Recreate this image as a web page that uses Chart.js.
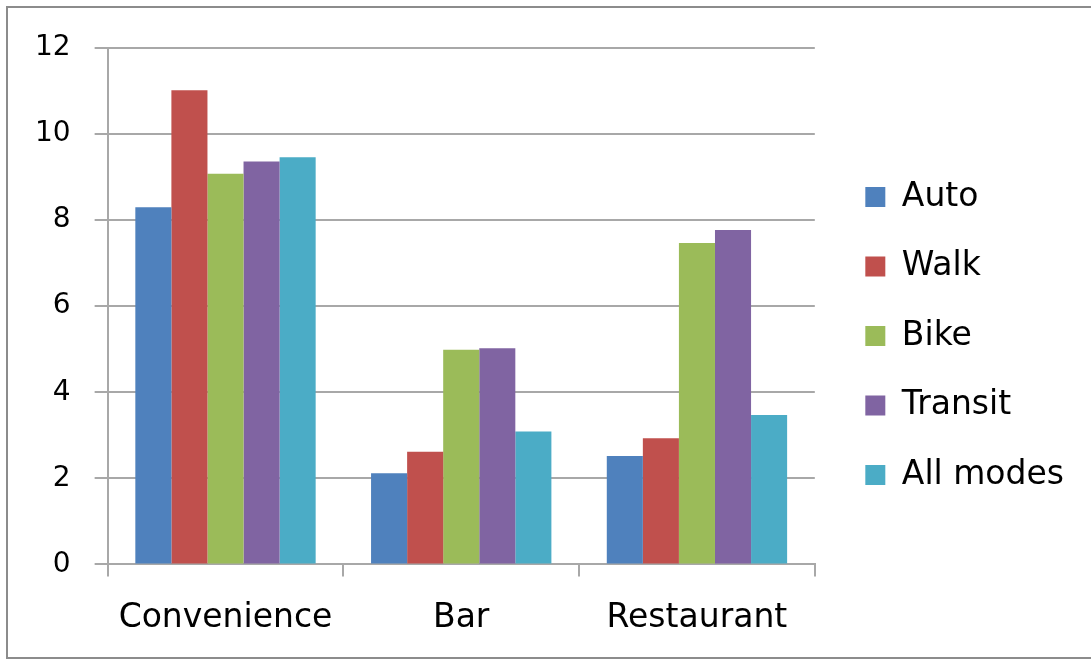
<!DOCTYPE html>
<html>
<head>
<meta charset="utf-8">
<script src="https://cdn.jsdelivr.net/npm/chart.js@4/dist/chart.umd.min.js"></script>
<style>
  html, body { margin: 0; padding: 0; background: #fff; }
  #wrap { position: relative; width: 1091px; height: 660px; }
</style>
</head>
<body>
<div id="wrap"><canvas id="myChart" width="1091" height="660"></canvas></div>
<script>
// data
const categories = ["Convenience", "Bar", "Restaurant"];
const auto = [8.3, 2.12, 2.52];
const walk = [11.02, 2.62, 2.93];
const bike = [9.08, 4.99, 7.47];
const transit = [9.36, 5.02, 7.77];
const allModes = [9.46, 3.09, 3.47];
const yTicks = [0, 2, 4, 6, 8, 10, 12];

const COLORS = {
    auto: "#4F81BD",
    walk: "#C0504D",
    bike: "#9BBB59",
    transit: "#8064A2",
    all: "#4BACC6",
    grid: "#a8a8a8",
    text: "#000000",
    frame: "#8c8c8c"
};

const FONT = "'DejaVu Sans', 'Noto Sans', sans-serif";

// grey frame round the whole picture
const framePlugin = {
    id: 'frame',
    afterDraw(chart) {
        const c = chart.ctx;
        c.save();
        c.strokeStyle = COLORS.frame;
        c.lineWidth = 2;
        c.strokeRect(7, 7, 1100, 651);
        c.restore();
    }
};

// nudge the legend right and up, like in the original
const legendShift = {
    id: 'legendShift',
    afterLayout(chart) {
        const lg = chart.legend;
        lg.left += 14;
        lg.right += 14;
        lg.top -= 18;
        lg.bottom -= 18;
    }
};

function ds(label, data, color) {
    return {
        label: label,
        data: data,
        backgroundColor: color,
        borderWidth: 0,
        barPercentage: 1.0,
        categoryPercentage: 0.765
    };
}

new Chart(document.getElementById("myChart"), {
    type: 'bar',
    data: {
        labels: categories,
        datasets: [
            ds("Auto", auto, COLORS.auto),
            ds("Walk", walk, COLORS.walk),
            ds("Bike", bike, COLORS.bike),
            ds("Transit", transit, COLORS.transit),
            ds("All modes", allModes, COLORS.all)
        ]
    },
    options: {
        responsive: false,
        animation: false,
        layout: {
            padding: { left: 11, right: 31, top: 48, bottom: 0 }
        },
        scales: {
            x: {
                grid: {
                    display: true,
                    drawOnChartArea: false,
                    drawTicks: true,
                    tickLength: 12,
                    color: COLORS.grid,
                    lineWidth: 2,
                    offset: true
                },
                border: { display: true, color: COLORS.grid, width: 2 },
                ticks: {
                    color: COLORS.text,
                    padding: 22,
                    font: { family: FONT, size: 33 }
                }
            },
            y: {
                min: 0,
                max: 12,
                afterBuildTicks: axis => {
                    axis.ticks = yTicks.map(v => ({ value: v }));
                },
                grid: {
                    color: COLORS.grid,
                    lineWidth: 2,
                    tickLength: 13
                },
                border: { display: true, color: COLORS.grid, width: 2 },
                ticks: {
                    color: COLORS.text,
                    padding: 24,
                    font: { family: FONT, size: 28 }
                }
            }
        },
        plugins: {
            legend: {
                position: 'right',
                labels: {
                    color: COLORS.text,
                    boxWidth: 20,
                    boxHeight: 20,
                    padding: 36.5,
                    font: { family: FONT, size: 33 }
                }
            },
            tooltip: { enabled: false }
        }
    },
    plugins: [framePlugin, legendShift]
});
</script>
</body>
</html>
